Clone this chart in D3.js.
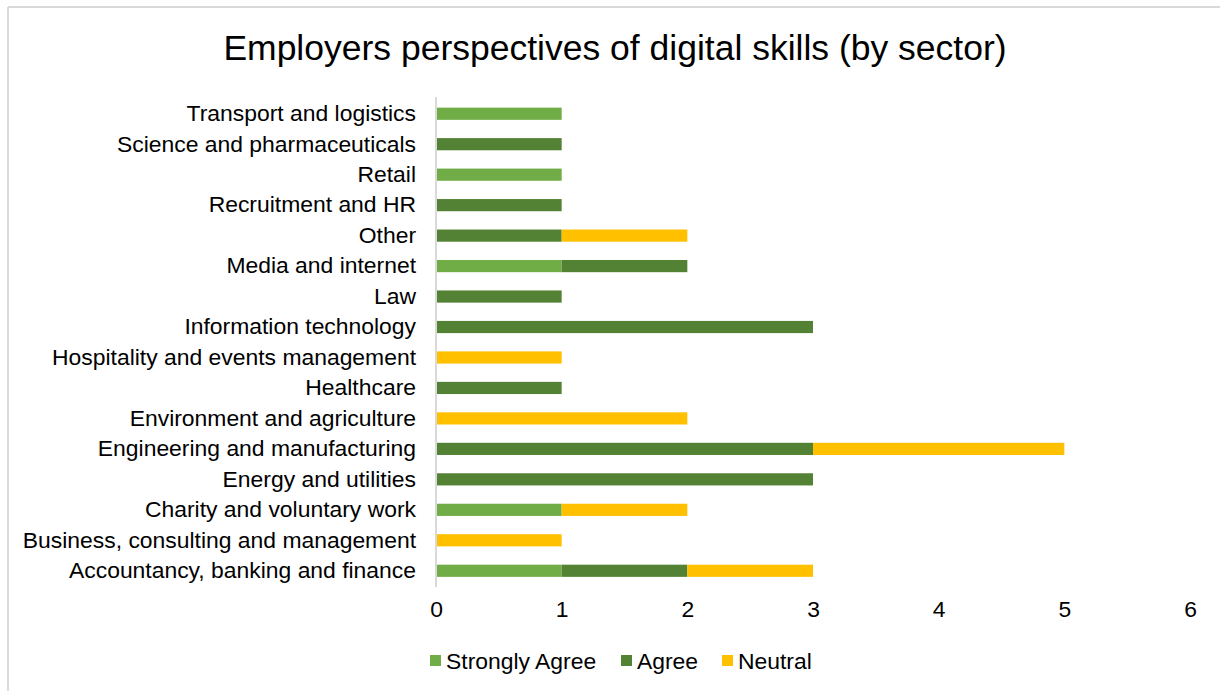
<!DOCTYPE html>
<html>
<head>
<meta charset="utf-8">
<script src="https://cdn.jsdelivr.net/npm/d3@7"></script>
<style>
  html, body { margin: 0; padding: 0; background: #fff; }
  svg { display: block; font-family: "Liberation Sans", Arial, sans-serif; }
</style>
</head>
<body>
<svg id="chart" width="1220" height="691"></svg>
<script>
// Sectors, listed bottom to top
const sectors = [
  "Accountancy, banking and finance",
  "Business, consulting and management",
  "Charity and voluntary work",
  "Energy and utilities",
  "Engineering and manufacturing",
  "Environment and agriculture",
  "Healthcare",
  "Hospitality and events management",
  "Information technology",
  "Law",
  "Media and internet",
  "Other",
  "Recruitment and HR",
  "Retail",
  "Science and pharmaceuticals",
  "Transport and logistics"
];
const seriesNames = ["Strongly Agree", "Agree", "Neutral"];
const stronglyAgree = [1, 0, 1, 0, 0, 0, 0, 0, 0, 0, 1, 0, 0, 1, 0, 1];
const agree         = [1, 0, 0, 3, 3, 0, 1, 0, 3, 1, 1, 1, 1, 0, 1, 0];
const neutral       = [1, 1, 1, 0, 2, 2, 0, 1, 0, 0, 0, 1, 0, 0, 0, 0];
const xTicks = [0, 1, 2, 3, 4, 5, 6];
const colors = ["#70AD47", "#548235", "#FFC000"];

const rows = sectors.map((s, i) => ({
  sector: s,
  "Strongly Agree": stronglyAgree[i],
  "Agree": agree[i],
  "Neutral": neutral[i]
}));

const svg = d3.select("#chart");
const labelSize = 22.9;

// Outer frame: top and left edges
svg.append("line").attr("x1", 8).attr("x2", 1220).attr("y1", 7).attr("y2", 7)
  .attr("stroke", "#d9d9d9").attr("stroke-width", 2);
svg.append("line").attr("x1", 8).attr("x2", 8).attr("y1", 7).attr("y2", 691)
  .attr("stroke", "#d9d9d9").attr("stroke-width", 2);

// Title
svg.append("text")
  .attr("x", 615).attr("y", 60)
  .attr("text-anchor", "middle")
  .attr("font-size", 35.5)
  .attr("fill", "#000")
  .text("Employers perspectives of digital skills (by sector)");

const x = d3.scaleLinear().domain([0, 6]).range([436, 1190]);
const y = d3.scaleBand()
  .domain(sectors.slice().reverse())
  .range([98.5, 586])
  .paddingInner(0.6).paddingOuter(0.3);

const stack = d3.stack().keys(seriesNames);
const layers = stack(rows);

svg.append("g").selectAll("g")
  .data(layers)
  .join("g")
  .attr("fill", (d, i) => colors[i])
  .selectAll("rect")
  .data(d => d)
  .join("rect")
  .attr("x", d => x(d[0]))
  .attr("width", d => x(d[1]) - x(d[0]))
  .attr("y", d => y(d.data.sector))
  .attr("height", y.bandwidth());

// Category axis
const yAxis = svg.append("g")
  .attr("transform", "translate(436,0)")
  .call(d3.axisLeft(y).tickSize(0).tickPadding(20));
yAxis.select(".domain").attr("stroke", "#d9d9d9").attr("stroke-width", 2)
  .attr("d", "M0,97V587");
yAxis.selectAll("text").attr("font-size", labelSize).attr("fill", "#000")
  .attr("font-family", "Liberation Sans, Arial, sans-serif");

// Value axis (labels only)
const xAxis = svg.append("g")
  .attr("transform", "translate(0,601)")
  .call(d3.axisBottom(x).tickValues(xTicks).tickFormat(d3.format("d")).tickSize(0).tickPadding(0));
xAxis.select(".domain").remove();
xAxis.selectAll("text").attr("font-size", labelSize).attr("fill", "#000")
  .attr("font-family", "Liberation Sans, Arial, sans-serif");

// Legend
const legendX = [430, 621, 722];
const legend = svg.append("g");
seriesNames.forEach((name, i) => {
  legend.append("rect")
    .attr("x", legendX[i]).attr("y", 655)
    .attr("width", 11).attr("height", 11)
    .attr("fill", colors[i]);
  legend.append("text")
    .attr("x", legendX[i] + 16).attr("y", 669)
    .attr("font-size", labelSize).attr("fill", "#000")
    .text(name);
});
</script>
</body>
</html>
